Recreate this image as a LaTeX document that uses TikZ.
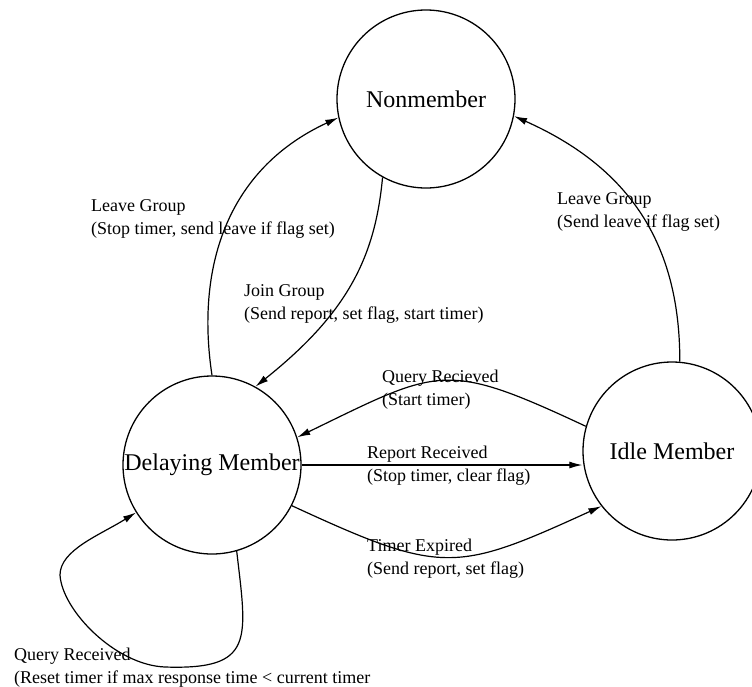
\documentclass[tikz,border=0pt]{standalone}
\usepackage{fontspec}
\setmainfont{Liberation Serif}
\usetikzlibrary{automata, arrows.meta}
\tikzset{
  ->,
  >={Latex[length=13pt, width=7pt]},
  every state/.style={line width=1.3pt, minimum size=178pt, inner sep=0pt,
    font=\fontsize{24}{28}\selectfont},
  trans/.style={line width=1.2pt},
  note/.style={align=left, anchor=base west, inner sep=0pt,
    font=\fontsize{18}{23}\selectfont},
}

\begin{document}
\begin{tikzpicture}[x=1pt, y=-1pt]
        \useasboundingbox (0,0) rectangle (752,686);

        % states
        \node[state] (nm) at (426,99) {Nonmember};
        \node[state] (dm) at (212,465) {Delaying Member};
        \node[state] (im) at (672,451) {Idle Member};

        % transitions
        \draw[trans] (dm.90) .. controls (196,270) and (225,170) .. (nm.192);
        \draw[trans] (nm.241) .. controls (375,260) and (345,315) .. (dm.61);
        \draw[trans] (im.85) .. controls (680,250) and (635,170) .. (nm.349);
        \draw[trans] (im.164) .. controls (444,360) and (440,368) .. (dm.18);
        \draw[trans] (dm.east) -- (im.west |- dm.east);
        \draw[trans] (dm.333) .. controls (442,575) and (455,573) .. (im.218);
        \draw[trans] (dm.286) .. controls (247,640) and (255,670) .. (165,667)
              .. controls (115,665) and (62,610) .. (60,575)
              .. controls (60,550) and (100,535) .. (dm.212);

        % labels (anchored at the baseline of the last line)
        \node[note] (lvdm) at (91,234) {Leave Group\\(Stop timer, send leave if flag set)};
        \node[note] (join) at (244,319) {Join Group\\(Send report, set flag, start timer)};
        \node[note] (qrim) at (382,405) {Query Recieved\\(Start timer)};
        \node[note] (rprt) at (367,481) {Report Received\\(Stop timer, clear flag)};
        \node[note] (tmex) at (367,574) {Timer Expired\\(Send report, set flag)};
        \node[note] (lvim) at (557,227) {Leave Group\\(Send leave if flag set)};
        \node[note] (qrdm) at (14,683) {Query Received\\(Reset timer if max response time < current timer};
\end{tikzpicture}
\end{document}
